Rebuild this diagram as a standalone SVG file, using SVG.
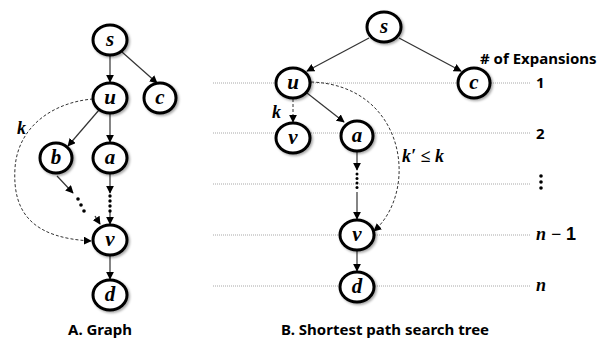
<svg xmlns="http://www.w3.org/2000/svg" width="616" height="345" viewBox="0 0 616 345">
<style>
.node ellipse{fill:#fff;stroke:#000;stroke-width:3;filter:url(#sh)}
.lbl{font-family:"Liberation Serif",serif;font-weight:bold;font-style:italic;font-size:21px;text-anchor:middle;fill:#000}
.math{font-family:"Liberation Serif",serif;font-weight:bold;font-style:italic;font-size:18px;fill:#000}
.sans{font-family:"Noto Sans","Liberation Sans",sans-serif;font-weight:bold;font-size:15px;fill:#000}
.e{stroke:#333;stroke-width:1.2;fill:none;marker-end:url(#ah)}
.d{stroke:#333;stroke-width:1;fill:none;stroke-dasharray:3,2;marker-end:url(#ah)}
.grid{stroke:#a8a8a8;stroke-width:1;stroke-dasharray:1,1}
</style>
<defs>
<filter id="sh" x="-30%" y="-30%" width="160%" height="160%">
<feDropShadow dx="1.5" dy="1.5" stdDeviation="1.2" flood-color="#000" flood-opacity="0.35"/>
</filter>
<marker id="ah" viewBox="0 0 10 10" refX="9" refY="5" markerWidth="8" markerHeight="8" markerUnits="userSpaceOnUse" orient="auto">
<path d="M0,0 L10,5 L0,10 z" fill="#000"/>
</marker>
</defs>
<g id="grid">
<line class="grid" x1="213" y1="83" x2="531" y2="83"/>
<line class="grid" x1="213" y1="133" x2="531" y2="133"/>
<line class="grid" x1="213" y1="184" x2="531" y2="184"/>
<line class="grid" x1="213" y1="235" x2="531" y2="235"/>
<line class="grid" x1="213" y1="286" x2="531" y2="286"/>
</g>
<g id="connectors">
<line class="e" x1="110" y1="56" x2="110" y2="82"/>
<line class="e" x1="122" y1="52" x2="157" y2="83"/>
<line class="e" x1="99" y1="110" x2="68" y2="146"/>
<line class="e" x1="110" y1="114" x2="110" y2="142"/>
<line class="e" x1="57" y1="176" x2="73" y2="193"/>
<line class="e" x1="110" y1="174" x2="110" y2="193"/>
<line class="e" x1="110" y1="212" x2="110" y2="224"/>
<line class="e" x1="95" y1="216" x2="100" y2="224"/>
<line class="e" x1="110" y1="256" x2="110" y2="279"/>
<path class="d" d="M93,99 C55,102 18,125 15,168 C12,215 35,238 91,241"/>
<line class="e" x1="369" y1="38" x2="307" y2="71"/>
<line class="e" x1="399" y1="38" x2="461" y2="71"/>
<line class="d" x1="293" y1="99" x2="293" y2="122"/>
<line class="e" x1="307" y1="93" x2="344" y2="122"/>
<line class="e" x1="357" y1="152" x2="357" y2="170"/>
<line class="e" x1="357" y1="192" x2="357" y2="219"/>
<line class="e" x1="357" y1="251" x2="357" y2="271"/>
<path class="d" d="M311,82 C405,85 420,190 374,231"/>
</g>
<g id="dots" fill="#000">
<circle cx="78" cy="199" r="1.8"/><circle cx="81" cy="205" r="1.8"/><circle cx="84" cy="211" r="1.8"/>
<circle cx="110" cy="196" r="1.7"/><circle cx="110" cy="201" r="1.7"/><circle cx="110" cy="206" r="1.7"/><circle cx="110" cy="211" r="1.7"/>
<circle cx="357" cy="174" r="1.5"/><circle cx="357" cy="178.5" r="1.5"/><circle cx="357" cy="183" r="1.5"/><circle cx="357" cy="187.5" r="1.5"/>
<circle cx="541" cy="176" r="1.8"/><circle cx="541" cy="182" r="1.8"/><circle cx="541" cy="188" r="1.8"/>
</g>
<g id="A_s" class="node"><ellipse cx="110" cy="40" rx="17" ry="15"/><text class="lbl" x="110" y="46">s</text></g>
<g id="A_u" class="node"><ellipse cx="110" cy="98" rx="17" ry="15"/><text class="lbl" x="110" y="104">u</text></g>
<g id="A_c" class="node"><ellipse cx="160" cy="98" rx="16" ry="15"/><text class="lbl" x="160" y="104">c</text></g>
<g id="A_b" class="node"><ellipse cx="56" cy="158" rx="16" ry="15"/><text class="lbl" x="56" y="164">b</text></g>
<g id="A_a" class="node"><ellipse cx="110" cy="158" rx="17" ry="15"/><text class="lbl" x="110" y="164">a</text></g>
<g id="A_v" class="node"><ellipse cx="110" cy="240" rx="17" ry="15"/><text class="lbl" x="110" y="246">v</text></g>
<g id="A_d" class="node"><ellipse cx="110" cy="295" rx="17" ry="15"/><text class="lbl" x="110" y="301">d</text></g>
<g id="B_s" class="node"><ellipse cx="384" cy="27" rx="17" ry="15"/><text class="lbl" x="384" y="33">s</text></g>
<g id="B_u" class="node"><ellipse cx="293" cy="83" rx="17" ry="15"/><text class="lbl" x="293" y="89">u</text></g>
<g id="B_c" class="node"><ellipse cx="474" cy="83" rx="16" ry="15"/><text class="lbl" x="474" y="89">c</text></g>
<g id="B_v1" class="node"><ellipse cx="293" cy="138" rx="17" ry="15"/><text class="lbl" x="293" y="144">v</text></g>
<g id="B_a" class="node"><ellipse cx="357" cy="136" rx="16" ry="15"/><text class="lbl" x="357" y="142">a</text></g>
<g id="B_v2" class="node"><ellipse cx="357" cy="235" rx="17" ry="15"/><text class="lbl" x="357" y="241">v</text></g>
<g id="B_d" class="node"><ellipse cx="357" cy="287" rx="17" ry="15"/><text class="lbl" x="357" y="293">d</text></g>
<g id="labels">
<text class="math" x="17" y="134">k</text>
<text class="math" x="272" y="118">k</text>
<text class="math" x="402" y="162">k′ ≤ k</text>
<text class="sans" x="480" y="64">#&#160;of Expansions</text>
<text class="sans" x="536" y="88">1</text>
<text class="sans" x="536" y="139">2</text>
<text class="math" x="536" y="240">n − <tspan font-family="Liberation Sans" font-style="normal">1</tspan></text>
<text class="math" x="536" y="291">n</text>
<text class="sans" x="100" y="335" text-anchor="middle">A. Graph</text>
<text class="sans" x="385" y="335" text-anchor="middle">B. Shortest path search tree</text>
</g>
</svg>
